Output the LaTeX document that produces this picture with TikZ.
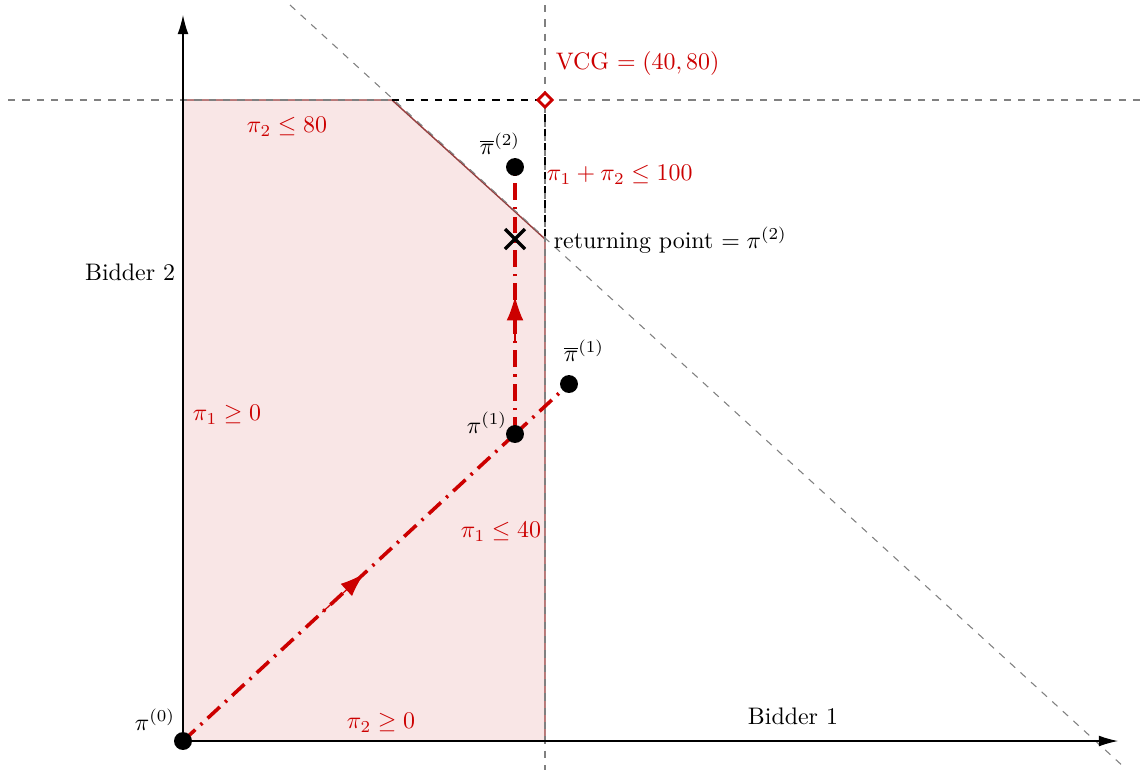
\documentclass[tikz,border=0pt]{standalone}
\usetikzlibrary{arrows.meta,calc,shapes.geometric}
\definecolor{myred}{RGB}{204,0,0}
\definecolor{regionfill}{RGB}{249,230,230}
\definecolor{regionedge}{RGB}{150,60,60}
\begin{document}
\begin{tikzpicture}[x=0.4184pt,y=-0.4184pt,
  guide/.style={gray, dashed, line width=0.45pt},
  blackguide/.style={black, dashed, line width=0.6pt},
  axis/.style={black, line width=0.45pt, -{Latex[length=8pt,width=4.5pt]}},
  iterpath/.style={myred, line width=1.5pt, dash pattern=on 7pt off 3pt on 1pt off 3pt},
  dirarrow/.style={myred, solid, line width=0.5pt, -{Latex[length=10pt,width=7pt]}},
  dot/.style={circle, fill=black, inner sep=0pt, minimum size=7.5pt},
  vcgmark/.style={diamond, draw=myred, fill=white, line width=1.2pt, inner sep=0pt, minimum size=6.5pt},
  rlabel/.style={text=myred, inner sep=1pt},
  blabel/.style={text=black, inner sep=1pt},
  cross/.style={black, line width=1.4pt}
]
\useasboundingbox (0,0) rectangle (1146,778);

% key coordinates
\coordinate (O) at (183,741);
\coordinate (Ytop) at (183,15);
\coordinate (Xend) at (1118,741);
\coordinate (TL) at (183,100);
\coordinate (C) at (392,100);
\coordinate (R) at (545,239);
\coordinate (B) at (545,741);
\coordinate (Vc) at (545,100);
\coordinate (HL) at (8,100);
\coordinate (HR) at (1146,100);
\coordinate (VT) at (545,5);
\coordinate (VB) at (545,770);
\coordinate (DT) at (290,5);
\coordinate (DB) at (1125,768);
\coordinate (P1) at (515,434);
\coordinate (PB1) at (569,384);
\coordinate (PB2) at (515,167);
\coordinate (X) at (515,239);

% feasible region
\filldraw[fill=regionfill, draw=regionedge, line width=0.6pt] (O) -- (TL) -- (C) -- (R) -- (B) -- cycle;

% guide lines
\draw[guide] (HL) -- (C);
\draw[guide] (Vc) -- (HR);
\draw[guide] (VT) -- (VB);
\draw[guide] (DT) -- (DB);

% axes
\draw[axis] (O) -- (Ytop);
\draw[axis] (O) -- (Xend);

% black dashed to VCG
\draw[blackguide] (C) -- (Vc);
\draw[blackguide] (Vc) -- (R);
\node[vcgmark] (V) at (Vc) {};

% iteration path
\draw[iterpath] (O) -- (P1);
\draw[iterpath] (P1) -- (PB1);
\draw[iterpath] (P1) -- (PB2);
\draw[dirarrow] ($(O)!0.42!(P1)$) -- ($(O)!0.545!(P1)$);
\draw[dirarrow] ($(P1)!0.35!(PB2)$) -- ($(P1)!0.515!(PB2)$);

% points
\node[dot] (p0) at (O) {};
\node[dot] (p1) at (P1) {};
\node[dot] (pb1) at (PB1) {};
\node[dot] (pb2) at (PB2) {};
\draw[cross] ([shift={(-10,-10)}]X) -- ([shift={(10,10)}]X);
\draw[cross] ([shift={(-10,10)}]X) -- ([shift={(10,-10)}]X);

% labels
\node[rlabel, anchor=west] (lvcg) at (553,64) {VCG $=(40,80)$};
\node[rlabel] (l80) at (287,127) {$\pi_2\le 80$};
\node[blabel] (lpb2) at (500,144) {$\overline{\pi}^{(2)}$};
\node[rlabel, anchor=west] (l100) at (544,175) {$\pi_1+\pi_2\le 100$};
\node[blabel, anchor=west] (lret) at (551,240) {returning point $=\pi^{(2)}$};
\node[blabel, anchor=east] (lb2) at (178,272) {Bidder 2};
\node[blabel] (lpb1) at (584,351) {$\overline{\pi}^{(1)}$};
\node[blabel] (lp1) at (487,423) {$\pi^{(1)}$};
\node[rlabel] (l0a) at (227,415) {$\pi_1\ge 0$};
\node[rlabel] (l40) at (501,532) {$\pi_1\le 40$};
\node[blabel] (lp0) at (155,720) {$\pi^{(0)}$};
\node[rlabel] (l0b) at (381,723) {$\pi_2\ge 0$};
\node[blabel] (lb1) at (793,716) {Bidder 1};
\end{tikzpicture}
\end{document}
